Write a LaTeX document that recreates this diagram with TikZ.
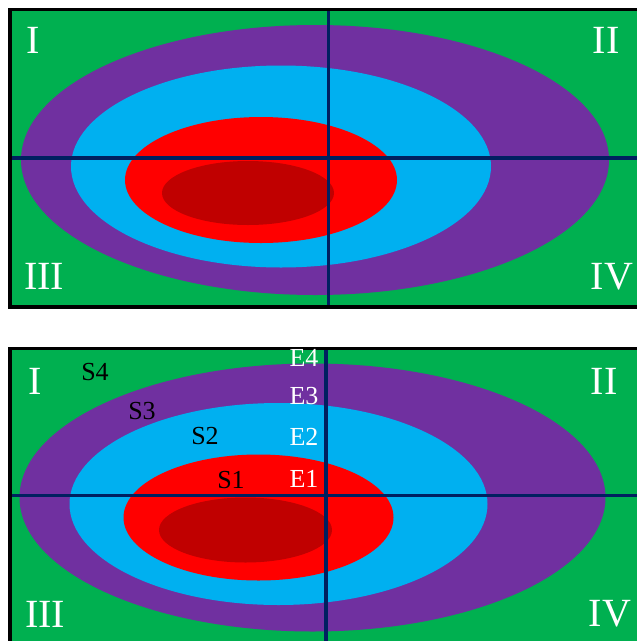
\documentclass[tikz,border=0pt]{standalone}
\usepackage{fontspec}
\setmainfont{Liberation Serif}
\definecolor{zonegreen}{HTML}{00B050}
\definecolor{zonepurple}{HTML}{7030A0}
\definecolor{zoneblue}{HTML}{00B0F0}
\definecolor{zonered}{HTML}{FF0000}
\definecolor{zonedark}{HTML}{C00000}
\definecolor{axisnavy}{HTML}{002060}

\begin{document}
\begin{tikzpicture}[
  x=1pt, y=-1pt,
  axis/.style={draw=axisnavy, line width=3.6pt},
  frame/.style={draw=black, line width=3.6pt},
  quad/.style={text=white, inner sep=0pt, font=\fontsize{40}{40}\selectfont},
  lab/.style={inner sep=0pt, font=\fontsize{26}{26}\selectfont}
]
\useasboundingbox (0,0) rectangle (637,641);
\clip (0,0) rectangle (637,641);

% top panel
\fill[zonegreen] (10,9.5) rectangle (680,306.7);
\fill[zonepurple] (315,160) ellipse [x radius=294pt, y radius=135pt];
\fill[zoneblue] (281,166.5) ellipse [x radius=210pt, y radius=101pt];
\fill[zonered] (261,180) ellipse [x radius=136pt, y radius=63pt];
\fill[zonedark] (248,193) ellipse [x radius=86pt, y radius=32pt];
\coordinate (tw) at (10,158);
\coordinate (te) at (680,158);
\coordinate (tn) at (328.5,9.5);
\coordinate (ts) at (328.5,306.7);
\draw[axis] (tw) -- (te);
\draw[axis] (tn) -- (ts);
\draw[frame] (10,9.5) rectangle (680,306.7);
\node[quad] (t1) at (33,40) {I};
\node[quad] (t2) at (606,40) {II};
\node[quad] (t3) at (44,276.5) {III};
\node[quad] (t4) at (612,276.5) {IV};

% bottom panel
\fill[zonegreen] (10,348.5) rectangle (680,700);
\begin{scope}[shift={(-2.5,337.5)}]
  \fill[zonepurple] (315,160) ellipse [x radius=293pt, y radius=134pt];
  \fill[zoneblue] (281,166.5) ellipse [x radius=209pt, y radius=101pt];
  \fill[zonered] (261,180) ellipse [x radius=135pt, y radius=63pt];
  \fill[zonedark] (248,192.5) ellipse [x radius=86.5pt, y radius=32.5pt];
  \coordinate (bw) at (12.5,158);
  \coordinate (be) at (680,158);
  \coordinate (bn) at (328.5,11);
  \coordinate (bs) at (328.5,400);
  \draw[axis] (bw) -- (be);
  \draw[axis] (bn) -- (bs);
\end{scope}
\draw[frame] (10,348.5) rectangle (680,700);
\node[quad] (b1) at (35,381) {I};
\node[quad] (b2) at (604,381) {II};
\node[quad] (b3) at (45,614) {III};
\node[quad] (b4) at (610,614) {IV};

\node[lab] (s4) at (95,372.5) {S4};
\node[lab] (s3) at (142,411) {S3};
\node[lab] (s2) at (205,436.5) {S2};
\node[lab] (s1) at (231,480) {S1};
\node[lab, text=white] (e4) at (304,358) {E4};
\node[lab, text=white] (e3) at (304,396) {E3};
\node[lab, text=white] (e2) at (304,437) {E2};
\node[lab, text=white] (e1) at (304,478.5) {E1};
\end{tikzpicture}
\end{document}
